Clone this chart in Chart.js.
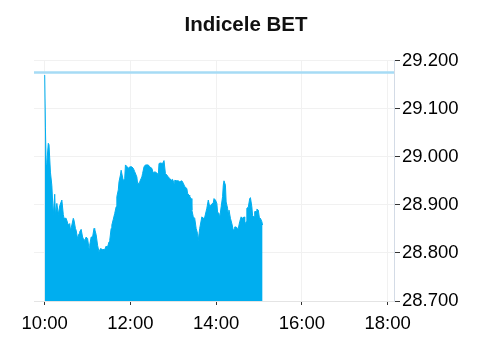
<!DOCTYPE html>
<html>
<head>
<meta charset="utf-8">
<script src="https://cdn.jsdelivr.net/npm/chart.js@4.4.0/dist/chart.umd.min.js"></script>
<style>
  body { margin: 0; background: #fff; }
  #wrap { width: 492px; height: 351px; }
</style>
</head>
<body>
<div id="wrap"><canvas id="bet" width="492" height="351"></canvas></div>
<script>
// intraday BET index
const times = [
  '10:00','10:01','10:02','10:03','10:05','10:06','10:08','10:10','10:12','10:14',
  '10:15','10:17','10:19','10:21','10:24','10:26','10:27','10:30','10:33','10:35',
  '10:36','10:38','10:40','10:41','10:43','10:44','10:46','10:48','10:49','10:51',
  '10:53','10:54','10:56','10:58','11:00','11:02','11:03','11:05','11:07','11:09',
  '11:10','11:12','11:14','11:16','11:18','11:21','11:24','11:26','11:27','11:30',
  '11:31','11:33','11:34','11:36','11:38','11:40','11:41','11:43','11:44','11:46',
  '11:47','11:50','11:52','11:53','11:55','11:57','11:59','12:02','12:04','12:06',
  '12:09','12:10','12:12','12:13','12:16','12:17','12:19','12:21','12:25','12:27',
  '12:30','12:32','12:34','12:38','12:39','12:40','12:42','12:45','12:47','12:49',
  '12:51','12:53','12:55','12:57','12:59','13:01','13:02','13:05','13:07','13:09',
  '13:12','13:14','13:16','13:19','13:20','13:22','13:23','13:25','13:26','13:28',
  '13:30','13:32','13:34','13:35','13:37','13:40','13:42','13:44','13:47','13:49',
  '13:51','13:54','13:56','13:57','13:59','14:01','14:02','14:04','14:05','14:07',
  '14:09','14:10','14:11','14:13','14:14','14:16','14:17','14:18','14:20','14:22',
  '14:24','14:25','14:26','14:28','14:30','14:31','14:33','14:35','14:37','14:39',
  '14:40','14:42','14:43','14:45','14:47','14:48','14:50','14:51','14:53','14:54',
  '14:56','14:57','14:59','15:01','15:02','15:04','15:05'
];
const values = [
  29170,29060,28983,28988,29028,29025,28968,28940,28878,28922,
  28880,28903,28880,28898,28910,28880,28872,28872,28858,28861,
  28847,28858,28872,28868,28851,28847,28830,28840,28844,28849,
  28833,28830,28826,28833,28830,28809,28816,28833,28833,28851,
  28849,28838,28816,28802,28809,28807,28807,28814,28807,28823,
  28826,28851,28858,28870,28882,28896,28917,28931,28948,28962,
  28972,28950,28955,28983,28980,28976,28979,28979,28976,28969,
  28958,28945,28945,28948,28958,28965,28979,28983,28983,28979,
  28976,28966,28969,28965,28962,28986,28987,28986,28992,28965,
  28962,28958,28955,28951,28953,28945,28951,28950,28950,28948,
  28950,28945,28938,28934,28924,28920,28917,28913,28889,28875,
  28872,28851,28840,28826,28851,28875,28872,28874,28893,28910,
  28896,28902,28904,28913,28910,28903,28885,28882,28872,28896,
  28917,28941,28950,28941,28906,28893,28878,28889,28872,28861,
  28847,28849,28854,28854,28851,28851,28865,28875,28872,28875,
  28858,28865,28893,28895,28913,28915,28896,28878,28875,28886,
  28886,28891,28889,28868,28872,28865,28858
];
const prevClose = 29175;
const xTickLabels = ['10:00', '12:00', '14:00', '16:00', '18:00'];
const yTicks = [28700, 28800, 28900, 29000, 29100, 29200];

function toMin(t) {
  const p = t.split(':');
  return +p[0] * 60 + +p[1];
}
function fmtPts(v) {
  return String(v).replace(/\B(?=(\d{3})+(?!\d))/g, '.');
}

const xMin = 585, xMax = 1089;
const xTickValues = xTickLabels.map(toMin);
const fontFam = '"Liberation Sans", Arial, sans-serif';

new Chart(document.getElementById('bet'), {
  type: 'line',
  data: {
    datasets: [{
      data: times.map((t, i) => ({ x: toMin(t), y: values[i] })),
      borderColor: '#00aeef',
      backgroundColor: '#00aeef',
      borderWidth: 1,
      pointRadius: 0,
      tension: 0,
      fill: 'start'
    }, {
      data: [{ x: xMin, y: prevClose }, { x: xMax, y: prevClose }],
      borderColor: '#a6dbf5',
      borderWidth: 2.5,
      pointRadius: 0,
      fill: false
    }]
  },
  options: {
    responsive: false,
    animation: false,
    layout: { padding: 0 },
    plugins: {
      legend: { display: false },
      tooltip: { enabled: false },
      title: {
        display: true,
        text: 'Indicele BET',
        color: '#111',
        font: { family: fontFam, size: 20.5, weight: 'bold' },
        padding: { top: 13, bottom: 23 }
      }
    },
    scales: {
      x: {
        type: 'linear',
        min: xMin,
        max: xMax,
        afterBuildTicks: (s) => { s.ticks = xTickValues.map(v => ({ value: v })); },
        afterFit: (s) => { s.height = 50; },
        grid: { color: '#f1f1f1', tickColor: '#333', tickLength: 4 },
        border: { color: '#e4e4e4' },
        ticks: {
          color: '#000',
          padding: 8,
          maxRotation: 0,
          font: { family: fontFam, size: 18.5 },
          callback: (v) => xTickLabels[xTickValues.indexOf(v)]
        }
      },
      y: {
        position: 'right',
        min: 28700,
        max: 29200,
        afterBuildTicks: (s) => { s.ticks = yTicks.map(v => ({ value: v })); },
        afterFit: (s) => { s.width = 98; },
        grid: { color: '#f1f1f1', tickColor: '#333', tickLength: 6 },
        border: { color: '#d3dbe6' },
        ticks: {
          color: '#000',
          padding: 2,
          font: { family: fontFam, size: 18.5 },
          callback: (v) => fmtPts(v)
        }
      },
      // empty left margin so the title stays centred on the whole canvas
      pad: {
        type: 'linear',
        position: 'left',
        afterFit: (s) => { s.width = 34; },
        grid: { display: false },
        border: { display: false },
        ticks: { display: false }
      }
    }
  }
});
</script>
</body>
</html>
